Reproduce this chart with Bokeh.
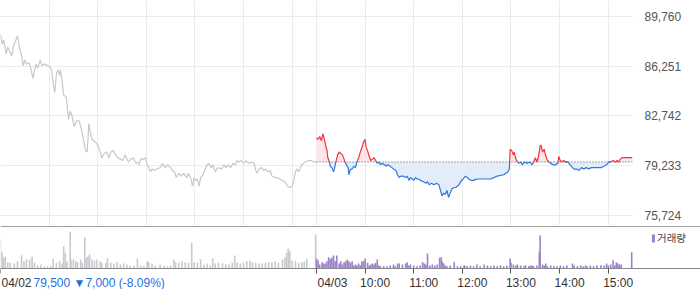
import numpy as np
from bokeh.plotting import figure
from bokeh.models import (Range1d, LinearAxis, FixedTicker, NumeralTickFormatter,
                          Label, Legend, LegendItem, Grid)
from bokeh.embed import file_html
from bokeh.resources import INLINE

# ---------------- data ----------------
SESSION = 390          # minutes per session (09:00-15:30)
prev_close = 79500
prev_change = -7000
prev_change_pct = -8.09

# previous day (04/02): minutes after 09:00, price
prev_t = [0, 2, 4, 7, 9, 12, 14, 16, 19, 21, 23, 26, 28, 30, 32, 35, 37, 40, 42, 44, 46, 49, 51, 54, 58,
          61, 63, 65, 67, 69, 71, 73, 74, 76, 78, 81, 82, 84, 86, 88, 91, 94, 97, 99, 101, 103, 105, 107,
          109, 111, 113, 115, 117, 120, 123, 125, 128, 131, 134, 136, 139, 142, 145, 148, 151, 154, 156,
          158, 161, 164, 167, 169, 171, 173, 176, 179, 181, 183, 185, 187, 190, 193, 197, 200, 203, 206,
          210, 212, 215, 217, 220, 223, 226, 230, 232, 235, 237, 239, 241, 243, 245, 247, 249, 252, 255,
          257, 260, 262, 265, 267, 269, 273, 276, 278, 281, 284, 287, 290, 292, 294, 297, 300, 303, 306,
          310, 313, 315, 317, 319, 322, 325, 327, 330, 333, 335, 339, 342, 344, 348, 351, 354, 357, 360,
          362, 364, 366, 368, 370, 372, 374, 376, 380, 383, 387, 390]
prev_price = [88500, 87800, 88100, 87100, 87600, 87200, 87000, 87700, 88100, 88400, 87700, 87000, 86300,
              86700, 86400, 86500, 86200, 85400, 86000, 86400, 86100, 86700, 86300, 86400, 86300, 86200,
              86000, 85000, 84400, 85700, 86000, 85600, 86000, 85200, 84200, 84100, 83600, 82500, 83100,
              82800, 82000, 82400, 82400, 82000, 81500, 80900, 80300, 80200, 82200, 81500, 81100, 81000,
              80900, 80700, 80200, 79800, 80100, 80200, 79800, 80200, 80300, 80000, 79800, 79700, 79600,
              80000, 79700, 79500, 79700, 79800, 79400, 79500, 79300, 79700, 79700, 79800, 79300, 79100,
              78800, 79000, 78900, 79000, 79100, 79400, 79100, 79300, 79100, 78900, 78800, 78400, 78700,
              78500, 78700, 78400, 78700, 78300, 77800, 78400, 78200, 78300, 77800, 78400, 78500, 78900,
              79300, 79400, 79100, 79300, 78800, 79000, 79100, 79000, 79300, 79100, 79300, 79100, 79400,
              79300, 79600, 79500, 79600, 79400, 79600, 79400, 79500, 79400, 78900, 78700, 79000, 79100,
              78900, 79000, 78800, 78900, 78500, 78400, 78400, 78300, 78200, 78100, 77800, 77700, 77800,
              78200, 78800, 79000, 78800, 79100, 79300, 79400, 79500, 79600, 79600, 79500, 79500]

# today (04/03): minutes after 09:00, price
today_t = [0, 2, 4, 6, 8, 10, 12, 13, 14, 16, 17, 19, 21, 22, 24, 26, 28, 30, 32, 34, 35, 37, 39, 40, 42,
           44, 46, 48, 50, 52, 54, 56, 58, 60, 61, 63, 65, 67, 69, 71, 73, 75, 77, 79, 81, 84, 86, 88, 91,
           93, 95, 98, 100, 102, 104, 107, 110, 112, 114, 116, 118, 120, 122, 124, 126, 128, 132, 135,
           137, 139, 142, 145, 148, 151, 153, 155, 157, 159, 161, 163, 165, 167, 170, 172, 176, 179, 181,
           184, 186, 188, 191, 194, 198, 207, 215, 223, 231, 236, 238, 239, 241, 243, 244, 246, 248, 250,
           252, 254, 257, 260, 263, 266, 268, 270, 272, 274, 276, 277, 279, 281, 283, 285, 287, 289, 292,
           295, 298, 299, 300, 302, 305, 307, 310, 313, 316, 318, 321, 324, 327, 330, 333, 336, 339, 342,
           346, 348, 351, 355, 358, 361, 363, 366, 369, 371, 373, 375, 377, 380, 383, 387, 390]
today_price = [81200, 81100, 81300, 81000, 81500, 81000, 80500, 80300, 79800, 79500, 79200, 79100, 78800,
               79000, 79500, 80000, 80200, 80100, 80000, 79700, 79500, 79300, 79100, 78600, 79000, 79000,
               79200, 79100, 79500, 79800, 80200, 80500, 80900, 81100, 80600, 80300, 79900, 79600, 79700,
               79800, 79600, 79400, 79500, 79300, 79400, 79300, 79200, 79300, 79200, 79100, 79000, 78900,
               78600, 78400, 78500, 78500, 78400, 78500, 78200, 78400, 78300, 78200, 78400, 78300, 78300,
               78200, 78100, 78000, 78100, 77900, 78000, 77900, 78000, 77900, 77500, 77100, 77300, 77200,
               77500, 77000, 77300, 77600, 77700, 77700, 77900, 78200, 78300, 78500, 78400, 78300, 78200,
               78200, 78300, 78300, 78300, 78500, 78600, 78800, 79000, 80400, 80300, 80000, 80200, 79700,
               79500, 79400, 79500, 79300, 79500, 79400, 79500, 79300, 79500, 79800, 79500, 79900, 80600,
               80700, 80200, 80400, 79900, 79600, 79500, 79400, 79300, 79300, 79400, 79900, 79700, 79500,
               79600, 79500, 79500, 79300, 79100, 79000, 79000, 78900, 79100, 79000, 79100, 79000, 79100,
               79100, 79100, 79100, 79100, 79200, 79300, 79500, 79500, 79600, 79500, 79600, 79500, 79700,
               79800, 79800, 79800, 79800, 79800]

# volume (relative units), minute of bar
prev_vol_t = [0, 2, 4, 6, 9, 12, 17, 21, 26, 29, 32, 36, 39, 42, 46, 50, 54, 58, 62, 65, 69, 73, 76, 78,
              80, 82, 86, 87, 90, 93, 95, 99, 101, 104, 106, 108, 110, 113, 116, 119, 123, 125, 130, 132,
              136, 140, 144, 148, 152, 156, 160, 165, 169, 173, 177, 181, 183, 187, 191, 197, 202, 206, 210,
              214, 216, 220, 224, 228, 232, 236, 239, 243, 247, 251, 255, 259, 262, 265, 269, 274, 278, 282,
              286, 289, 292, 296, 300, 304, 308, 311, 315, 319, 323, 327, 331, 335, 339, 343, 348, 351, 353,
              355, 357, 360, 364, 368, 372, 375, 378, 389]
prev_vol = [290, 160, 110, 120, 60, 57, 50, 73, 133, 73, 90, 90, 117, 57, 30, 40, 23, 23, 23, 97, 57, 73,
            50, 223, 157, 73, 367, 90, 90, 73, 63, 90, 57, 313, 107, 123, 140, 90, 80, 90, 73, 57, 57, 100,
            57, 50, 63, 40, 50, 40, 30, 30, 100, 30, 23, 73, 63, 50, 30, 40, 30, 23, 30, 90, 63, 57, 73, 63,
            57, 257, 63, 57, 90, 40, 50, 30, 100, 50, 57, 50, 40, 40, 57, 130, 63, 50, 57, 73, 77, 63, 57,
            50, 50, 57, 63, 63, 73, 57, 90, 107, 157, 200, 173, 80, 73, 57, 63, 73, 100, 343]
today_vol_t = [0, 2, 4, 7, 9, 11, 13, 15, 17, 19, 21, 23, 25, 28, 30, 32, 34, 36, 38, 40, 42, 44, 46, 48,
               50, 52, 54, 56, 58, 60, 63, 65, 67, 69, 71, 73, 75, 77, 79, 83, 87, 91, 95, 97, 100, 102,
               106, 110, 112, 114, 116, 120, 124, 128, 131, 133, 135, 137, 140, 143, 146, 149, 152, 154,
               155, 157, 159, 161, 165, 170, 174, 178, 182, 183, 186, 190, 194, 198, 202, 207, 211, 215,
               219, 223, 227, 231, 235, 239, 240, 243, 246, 248, 252, 256, 258, 262, 264, 266, 268, 272,
               275, 276, 279, 281, 283, 285, 289, 293, 297, 301, 305, 309, 316, 318, 322, 326, 329, 332,
               334, 338, 342, 346, 351, 355, 358, 360, 363, 366, 368, 370, 372, 374, 376, 389]
today_vol = [100, 83, 40, 63, 50, 50, 73, 113, 97, 107, 130, 73, 130, 50, 73, 40, 63, 73, 90, 73, 57, 73,
             30, 40, 30, 50, 30, 73, 73, 100, 57, 30, 40, 50, 40, 57, 90, 30, 23, 23, 23, 30, 40, 23, 50,
             50, 40, 50, 63, 30, 40, 30, 23, 30, 63, 50, 40, 150, 30, 40, 30, 40, 107, 113, 73, 50, 30, 23,
             30, 63, 23, 23, 30, 30, 23, 30, 23, 40, 23, 40, 30, 23, 30, 23, 30, 23, 30, 100, 57, 40, 30,
             40, 30, 23, 33, 23, 30, 30, 23, 30, 163, 330, 40, 30, 50, 23, 30, 23, 23, 30, 23, 30, 50, 30,
             23, 30, 23, 30, 23, 30, 23, 30, 33, 30, 50, 30, 40, 83, 30, 63, 50, 40, 40, 163]

price_ticks = [75724, 79233, 82742, 86251, 89760]
grid_minutes = [60, 120, 180, 240, 300, 360, 390, 450, 510, 570, 630, 690, 750]
axis_tick_minutes = [0, 390, 450, 510, 570, 630, 690, 750]
axis_tick_labels = ["04/02", "04/03", "10:00", "11:00", "12:00", "13:00", "14:00", "15:00"]
legend_label = "거래량"

# ---------------- style ----------------
W = 700
PRICE_H = 225
VOL_H = 64
FRAME_W = 632
XMAX = 2 * SESSION
PPM = FRAME_W / XMAX          # pixels per minute
VOL_PER_PX = 10               # volume units per pixel in the volume pane
VOL_ABOVE_PX, VOL_BELOW_PX = 43, 21
RED, BLUE = "#f7313c", "#2f78dc"
RED_FILL, BLUE_FILL = "#fde6e8", "#e3ecf9"
GRAY_LINE = "#c6c8cc"
GRAY_VOL = "#c8cacf"
PURPLE = "#9c83c9"
FONT = "Liberation Sans"

prev_t = np.array(prev_t, float)
prev_price = np.array(prev_price, float)
tt_today = SESSION + np.array(today_t, float)
pp_today = np.array(today_price, float)


def split_at(t, v, base):
    ts, vs = [t[0]], [v[0]]
    for i in range(1, len(t)):
        a, b = v[i - 1] - base, v[i] - base
        if a * b < 0:
            f = a / (a - b)
            ts.append(t[i - 1] + f * (t[i] - t[i - 1]))
            vs.append(base)
        ts.append(t[i])
        vs.append(v[i])
    return np.array(ts), np.array(vs)


ts, vs = split_at(tt_today, pp_today, prev_close)
red_y = np.where(vs >= prev_close, vs, np.nan)
blue_y = np.where(vs <= prev_close, vs, np.nan)

# ---------------- price figure ----------------
p = figure(width=W, height=PRICE_H, x_range=Range1d(0, XMAX), y_range=Range1d(75019, 90888),
           x_axis_location=None, y_axis_location=None, toolbar_location=None,
           output_backend="svg", min_border_left=0, min_border_top=0, min_border_bottom=0,
           min_border_right=W - FRAME_W, outline_line_color=None)
p.grid.visible = False
p.add_layout(Grid(dimension=0, ticker=FixedTicker(ticks=grid_minutes), grid_line_color="#ebebeb"))
p.add_layout(Grid(dimension=1, ticker=FixedTicker(ticks=price_ticks), grid_line_color="#ebebeb"))

yax = LinearAxis(ticker=FixedTicker(ticks=price_ticks), formatter=NumeralTickFormatter(format="0,0"),
                 axis_line_color=None, major_tick_line_color=None, minor_tick_line_color=None,
                 major_label_standoff=6, major_label_text_font_size="12px",
                 major_label_text_color="#555555", major_label_text_font=FONT)
p.add_layout(yax, "right")

p.varea(x=ts, y1=prev_close, y2=np.maximum(vs, prev_close), fill_color=RED_FILL)
p.varea(x=ts, y1=prev_close, y2=np.minimum(vs, prev_close), fill_color=BLUE_FILL)
p.line(prev_t, prev_price, line_color=GRAY_LINE, line_width=1.2)
p.line([tt_today[0], tt_today[-1]], [prev_close, prev_close], line_color="#555555",
       line_dash="1 2", line_width=1)
p.line(ts, red_y, line_color=RED, line_width=1.2)
p.line(ts, blue_y, line_color=BLUE, line_width=1.2)

# ---------------- volume figure (its frame covers the whole strip) ----------------
v_top = VOL_ABOVE_PX * VOL_PER_PX
v_bot = -VOL_BELOW_PX * VOL_PER_PX
v = figure(width=W, height=VOL_H, x_range=Range1d(0, W / PPM), y_range=Range1d(v_bot, v_top),
           x_axis_location=None, y_axis_location=None, toolbar_location=None,
           output_backend="svg", min_border=0, outline_line_color=None)
v.grid.visible = False

top_line = LinearAxis(ticker=FixedTicker(ticks=[]), fixed_location=v_top - 0.5 * VOL_PER_PX,
                      axis_line_color="#a0a0a0", major_tick_line_color=None,
                      minor_tick_line_color=None, major_tick_out=0, major_tick_in=0,
                      minor_tick_out=0)
v.add_layout(top_line, "above")

tick_axis = LinearAxis(ticker=FixedTicker(ticks=axis_tick_minutes), fixed_location=0,
                       major_label_overrides={m: "" for m in axis_tick_minutes},
                       axis_line_color="#888888", major_tick_line_color="#555555",
                       minor_tick_line_color=None, major_tick_out=5, major_tick_in=0,
                       minor_tick_out=0)
v.add_layout(tick_axis, "below")

# label positions: dates start at their tick, times start 5px before their tick
label_pos = []
for m, lab in zip(axis_tick_minutes, axis_tick_labels):
    shift_px = 16 if "/" in lab else 10
    label_pos.append(round(m + shift_px / PPM, 4))
label_axis = LinearAxis(ticker=FixedTicker(ticks=label_pos), fixed_location=0,
                        major_label_overrides={k: lab for k, lab in zip(label_pos, axis_tick_labels)},
                        axis_line_color=None, major_tick_line_color=None, minor_tick_line_color=None,
                        major_tick_out=0, major_tick_in=0, minor_tick_out=0,
                        major_label_standoff=7, major_label_text_font_size="12px",
                        major_label_text_color="#333333", major_label_text_font=FONT)
v.add_layout(label_axis, "below")

v.vbar(x=prev_vol_t, top=prev_vol, width=2.0, fill_color=GRAY_VOL, line_color=None)
r_today = v.vbar(x=SESSION + np.array(today_vol_t), top=today_vol, width=2.0,
                 fill_color=PURPLE, line_color=None)

legend = Legend(items=[LegendItem(label=legend_label, renderers=[r_today])], location=(651, 44),
                glyph_width=4, glyph_height=10, label_height=12, label_standoff=2, padding=0,
                spacing=0, margin=0, border_line_color=None, background_fill_alpha=0,
                label_text_font_size="10.5px", label_text_color="#444444",
                label_text_font="Noto Sans CJK KR")
v.add_layout(legend, "center")

info = f"{prev_close:,} \u25bc{abs(prev_change):,} ({prev_change_pct:.2f}%)"
v.add_layout(Label(x=33, y=6.5, x_units="screen", y_units="screen", text=info,
                   text_font=FONT, text_font_size="12px", text_color="#1f6fe0",
                   text_baseline="middle"))

open("out.html", "w").write(file_html([p, v], INLINE))
